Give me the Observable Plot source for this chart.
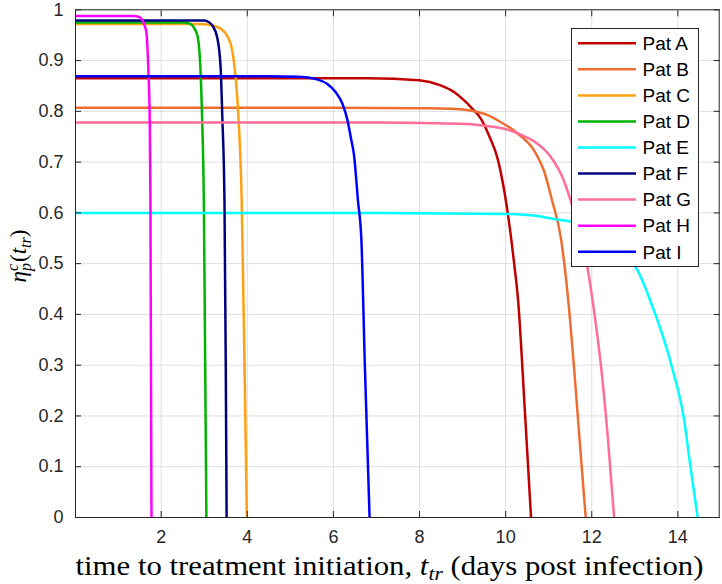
<!DOCTYPE html>
<html><head><meta charset="utf-8">
<script src="https://cdn.jsdelivr.net/npm/d3@7"></script>
<script src="https://cdn.jsdelivr.net/npm/@observablehq/plot@0.6"></script>
<style>html,body{margin:0;padding:0;background:#fff;} svg{display:block}</style>
</head><body><div id="chart"></div>
<script>
const patients = ["Pat A","Pat B","Pat C","Pat D","Pat E","Pat F","Pat G","Pat H","Pat I"];
const colors = ["#C00000","#EE6E32","#FFA010","#00B400","#00FFFF","#000080","#FF6E96","#FF00FF","#0000FF"];

// [t_tr, eta]
const patA = [[0.01,0.865],[6.0,0.865],[6.8,0.865],[7.99,0.861],[8.49,0.851],[8.80,0.838],[9.03,0.822],[9.23,0.805],[9.42,0.786],[9.62,0.751],[9.82,0.705],[10.04,0.605],[10.19,0.506],[10.29,0.427],[10.44,0.22],[10.59,0]];
const patB = [[0.01,0.807],[6.0,0.807],[7.99,0.806],[8.72,0.805],[9.26,0.800],[9.57,0.793],[9.88,0.779],[10.27,0.757],[10.66,0.723],[10.89,0.683],[11.08,0.624],[11.28,0.552],[11.44,0.44],[11.59,0.294],[11.71,0.161],[11.86,0]];
const patC = [[0.01,0.972],[2.9,0.972],[3.07,0.971],[3.38,0.963],[3.53,0.949],[3.65,0.92],[3.73,0.867],[3.79,0.795],[3.87,0.624],[3.93,0.33],[3.99,0]];
const patD = [[0.01,0.975],[2.55,0.975],[2.7,0.971],[2.78,0.962],[2.85,0.946],[2.91,0.887],[2.95,0.788],[2.99,0.624],[3.02,0.32],[3.05,0]];
const patE = [[0.01,0.600],[7.1,0.600],[10.04,0.598],[10.74,0.594],[11.12,0.588],[11.55,0.582],[13.02,0.493],[13.36,0.427],[13.87,0.294],[14.14,0.195],[14.30,0.095],[14.46,0]];
const patF = [[0.01,0.979],[3.0,0.979],[3.1,0.976],[3.19,0.969],[3.30,0.946],[3.38,0.887],[3.42,0.788],[3.47,0.624],[3.50,0.30],[3.52,0]];
const patG = [[0.01,0.778],[7.1,0.778],[9.11,0.775],[9.57,0.771],[10.04,0.764],[10.35,0.754],[10.66,0.741],[11.05,0.710],[11.32,0.670],[11.51,0.624],[11.90,0.493],[12.02,0.427],[12.22,0.294],[12.37,0.161],[12.52,0]];
const patH = [[0.01,0.988],[1.35,0.988],[1.48,0.986],[1.56,0.980],[1.62,0.968],[1.66,0.953],[1.70,0.887],[1.735,0.78],[1.75,0.624],[1.775,0]];
const patI = [[0.01,0.869],[4.5,0.869],[5.2,0.868],[5.62,0.863],[5.86,0.854],[6.05,0.838],[6.21,0.815],[6.32,0.785],[6.41,0.746],[6.48,0.713],[6.57,0.624],[6.65,0.546],[6.73,0.30],[6.84,0]];

const xTicks = [2,4,6,8,10,12,14];
const yTicks = [0,0.1,0.2,0.3,0.4,0.5,0.6,0.7,0.8,0.9,1];
const yLabels = ["0","0.1","0.2","0.3","0.4","0.5","0.6","0.7","0.8","0.9","1"];

const series = [patA,patB,patC,patD,patE,patF,patG,patH,patI];
const rows = [];
series.forEach((s,i) => s.forEach(([t,eta]) => rows.push({pat: patients[i], t, eta})));

const axisColor = "#262626";
const svg = Plot.plot({
  width: 722, height: 584,
  marginLeft: 75, marginRight: 3.3, marginTop: 9.3, marginBottom: 67,
  style: {fontFamily: "'Liberation Sans', Arial, sans-serif", fontSize: "18px", color: axisColor, background: "#fff"},
  x: {domain: [0.01, 14.96]},
  y: {domain: [0, 1]},
  color: {domain: patients, range: colors},
  marks: [
    Plot.gridX(xTicks, {stroke: "#dedede", strokeOpacity: 1}),
    Plot.gridY(yTicks, {stroke: "#dedede", strokeOpacity: 1}),
    Plot.line(rows, {x: "t", y: "eta", z: "pat", stroke: "pat", strokeWidth: 2.5, curve: "monotone-x", clip: true}),
    Plot.frame({stroke: axisColor, strokeWidth: 1}),
    Plot.axisX(xTicks, {anchor: "bottom", tickSize: 0, tickPadding: 13, tickFormat: d => String(d), label: null, fontSize: 18}),
    Plot.axisX(xTicks, {anchor: "bottom", tickSize: -6, tickFormat: () => "", label: null, stroke: axisColor}),
    Plot.axisX(xTicks, {anchor: "top", tickSize: -6, tickFormat: () => "", label: null, stroke: axisColor}),
    Plot.axisY(yTicks, {anchor: "left", tickSize: 0, tickPadding: 12, tickFormat: d => yLabels[yTicks.indexOf(d)], label: null, fontSize: 18}),
    Plot.axisY(yTicks, {anchor: "left", tickSize: -6, tickFormat: () => "", label: null, stroke: axisColor}),
    Plot.axisY(yTicks, {anchor: "right", tickSize: -6, tickFormat: () => "", label: null, stroke: axisColor})
  ]
});
document.getElementById("chart").appendChild(svg);

const s = d3.select(svg);
// legend
const lg = s.append("g");
lg.append("rect").attr("x", 571.5).attr("y", 28.5).attr("width", 127).attr("height", 238)
  .attr("fill", "#fff").attr("stroke", axisColor).attr("stroke-width", 1);
patients.forEach((p,i) => {
  const y = 43.3 + i*26.05;
  lg.append("line").attr("x1", 578).attr("x2", 636).attr("y1", y).attr("y2", y)
    .attr("stroke", colors[i]).attr("stroke-width", 2.5);
  lg.append("text").attr("x", 642.5).attr("y", y).attr("dy", "0.36em").attr("text-anchor", "start")
    .attr("font-family", "'Liberation Sans', Arial, sans-serif").attr("font-size", 19).attr("fill", "#000").text(p);
});

// x axis title
const serif = "'Liberation Serif', 'DejaVu Serif', serif";
const xt = s.append("text").attr("x", 389.5).attr("y", 575).attr("text-anchor", "middle")
  .attr("font-family", serif).attr("font-size", 27).attr("fill", "#000")
  .attr("textLength", 628).attr("lengthAdjust", "spacingAndGlyphs");
xt.append("tspan").text("time to treatment initiation, ");
xt.append("tspan").attr("font-style", "italic").text("t");
xt.append("tspan").attr("font-style", "italic").attr("font-size", 19).attr("dy", 5).text("tr");
xt.append("tspan").attr("dy", -5).text(" (days post infection)");

// y axis title
const yg = s.append("g").attr("transform", "translate(26,256) rotate(-90)");
const yt = yg.append("text").attr("text-anchor", "middle").attr("font-family", serif)
  .attr("font-size", 23).attr("fill", "#000");
yt.append("tspan").attr("font-style", "italic").text("η");
yt.append("tspan").attr("font-style", "italic").attr("font-size", 16).attr("dy", 5).text("p");
yt.append("tspan").attr("font-style", "italic").attr("font-size", 16).attr("dx", -8).attr("dy", -13).text("c");
yt.append("tspan").attr("dy", 8).attr("dx", 2).text("(");
yt.append("tspan").attr("font-style", "italic").text("t");
yt.append("tspan").attr("font-style", "italic").attr("font-size", 16).attr("dy", 5).text("tr");
yt.append("tspan").attr("dy", -5).text(")");
</script>
</body></html>
